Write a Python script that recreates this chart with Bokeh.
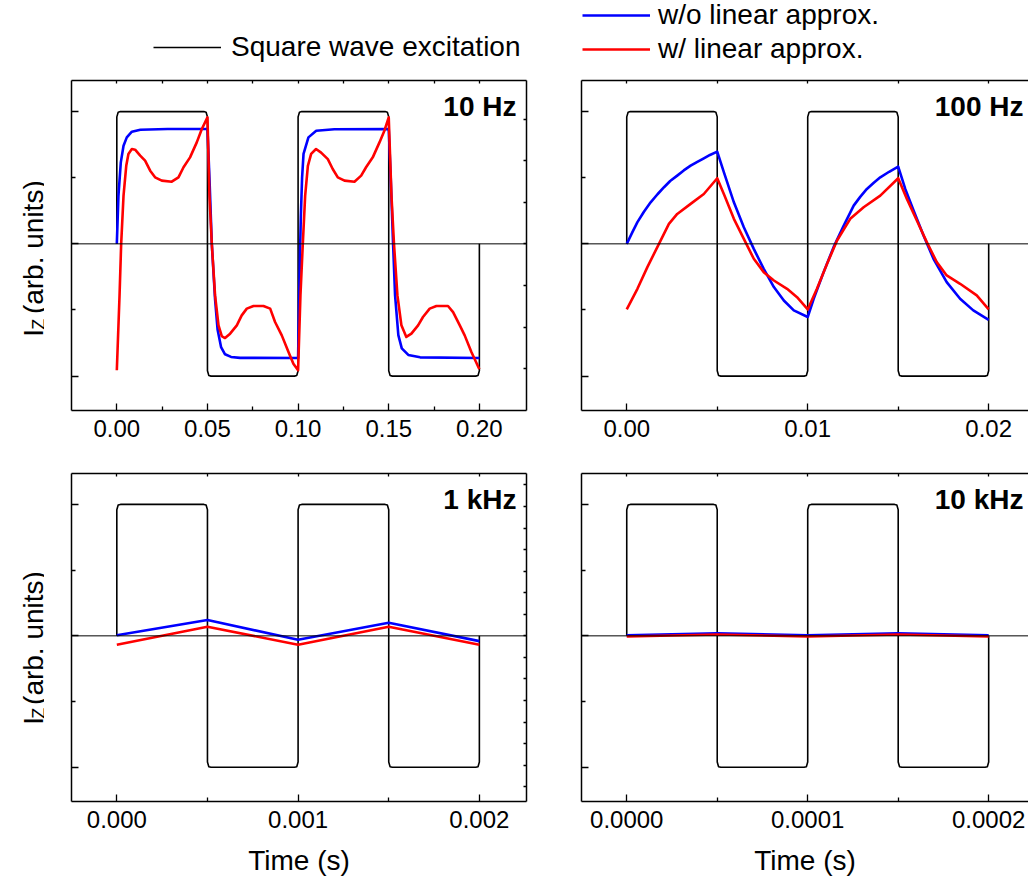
import math
from bokeh.plotting import figure
from bokeh.models import (Range1d, LinearAxis, FixedTicker, Span, Label, Legend,
                          LegendItem, PrintfTickFormatter, CustomJSTickFormatter)
from bokeh.layouts import column, row
from bokeh.embed import file_html
from bokeh.resources import INLINE

FONT = "Liberation Sans"

# ---------------- data ----------------
# square-wave excitation, time in units of half-periods, level normalised
sq_phase = [0, 0, 0.015, 0.04, 0.96, 0.985, 1, 1, 1.015, 1.04, 1.96, 1.985, 2,
            2, 2.015, 2.04, 2.96, 2.985, 3, 3, 3.015, 3.04, 3.96, 3.985, 4, 4]
sq_level = [0, 0.96, 0.995, 1, 1, 0.995, 0.96, -0.96, -0.995, -1, -1, -0.995, -0.96,
            0.96, 0.995, 1, 1, 0.995, 0.96, -0.96, -0.995, -1, -1, -0.995, -0.96, 0]

panel_titles = ["10 Hz", "100 Hz", "1 kHz", "10 kHz"]
half_periods = [0.05, 0.005, 0.0005, 0.00005]

# 10 Hz
t10_blue = [0, 0.0009, 0.0022, 0.0037, 0.0055, 0.0083, 0.013, 0.028, 0.05,
            0.0511, 0.0524, 0.0542, 0.0556, 0.0575, 0.0597, 0.063, 0.068, 0.1,
            0.1007, 0.1015, 0.1022, 0.103, 0.1057, 0.11, 0.12, 0.15,
            0.1511, 0.1524, 0.1535, 0.1553, 0.1572, 0.1608, 0.1673, 0.2]
v10_blue = [0, 0.365, 0.616, 0.742, 0.805, 0.848, 0.863, 0.868, 0.868,
            0.5, 0.0, -0.42, -0.65, -0.78, -0.835, -0.855, -0.862, -0.863,
            -0.3, 0.2, 0.5, 0.68, 0.805, 0.855, 0.866, 0.868,
            0.5, 0.0, -0.39, -0.69, -0.79, -0.84, -0.858, -0.863]
t10_red = [0, 0.0015, 0.0024, 0.0037, 0.0052, 0.0064, 0.0083, 0.0101, 0.0129, 0.0156,
           0.0184, 0.0211, 0.0248, 0.0303, 0.034, 0.0368, 0.0404, 0.0441, 0.0469, 0.05,
           0.0511, 0.0524, 0.0542, 0.0561, 0.0579, 0.0597, 0.0625, 0.0662, 0.0689,
           0.0717, 0.0754, 0.0809, 0.0846, 0.0873, 0.091, 0.0947, 0.0974, 0.1,
           0.1013, 0.1026, 0.1039, 0.1054, 0.1072, 0.1099, 0.1127, 0.1164, 0.1191,
           0.1219, 0.1256, 0.1311, 0.1348, 0.1375, 0.1412, 0.1449, 0.1476, 0.15,
           0.1515, 0.1529, 0.1548, 0.157, 0.1597, 0.1625, 0.1662, 0.1689,
           0.1726, 0.1763, 0.1827, 0.1855, 0.1892, 0.1919, 0.1956, 0.2]
v10_red = [-0.956, -0.39, 0, 0.365, 0.59, 0.68, 0.717, 0.712, 0.667, 0.629,
           0.553, 0.503, 0.478, 0.47, 0.503, 0.579, 0.654, 0.767, 0.868, 0.956,
           0.365, 0, -0.39, -0.616, -0.697, -0.712, -0.679, -0.616, -0.541,
           -0.49, -0.47, -0.47, -0.49, -0.591, -0.692, -0.818, -0.906, -0.956,
           -0.39, 0, 0.365, 0.59, 0.68, 0.717, 0.69, 0.64, 0.566,
           0.503, 0.478, 0.47, 0.516, 0.579, 0.654, 0.767, 0.855, 0.956,
           0.365, 0, -0.39, -0.616, -0.704, -0.679, -0.616, -0.553,
           -0.49, -0.47, -0.47, -0.516, -0.616, -0.692, -0.818, -0.948]

# 100 Hz
t100_blue = [0, 0.0003, 0.00059, 0.00095, 0.00132, 0.0017, 0.00206, 0.0024, 0.00279,
             0.00315, 0.00353, 0.0039, 0.00426, 0.0046, 0.005,
             0.00537, 0.00592, 0.00647, 0.00702, 0.00757, 0.00813, 0.00868, 0.00923, 0.01,
             0.01033, 0.01088, 0.01143, 0.01199, 0.01254, 0.0129, 0.01327, 0.01365, 0.01401,
             0.0145, 0.015,
             0.01539, 0.01585, 0.0164, 0.01695, 0.01768, 0.01842, 0.01915, 0.02]
v100_blue = [0, 0.085, 0.164, 0.243, 0.314, 0.375, 0.428, 0.475, 0.516,
             0.555, 0.591, 0.62, 0.647, 0.672, 0.697,
             0.541, 0.314, 0.126, -0.038, -0.189, -0.327, -0.428, -0.503, -0.553,
             -0.415, -0.214, -0.025, 0.138, 0.289, 0.355, 0.415, 0.462, 0.503,
             0.545, 0.584,
             0.415, 0.252, 0.063, -0.113, -0.289, -0.415, -0.503, -0.574]
t100_red = [0, 0.00059, 0.00114, 0.00178, 0.00233, 0.00279, 0.00353, 0.00426, 0.005,
            0.0054, 0.00592, 0.00647, 0.00702, 0.00757, 0.00813, 0.00886, 0.00941, 0.01,
            0.01051, 0.01107, 0.01162, 0.01235, 0.01309, 0.01401, 0.015,
            0.01548, 0.01603, 0.01658, 0.01713, 0.01768, 0.01842, 0.01934, 0.02]
v100_red = [-0.496, -0.34, -0.176, 0, 0.151, 0.226, 0.302, 0.377, 0.496,
            0.365, 0.189, 0.038, -0.113, -0.214, -0.277, -0.34, -0.403, -0.496,
            -0.34, -0.151, 0.025, 0.189, 0.277, 0.365, 0.496,
            0.34, 0.176, 0.013, -0.138, -0.239, -0.302, -0.39, -0.496]

# 1 kHz
t1k = [0, 0.0005, 0.001, 0.0015, 0.002]
v1k_blue = [0.005, 0.121, -0.03, 0.10, -0.04]
v1k_red = [-0.068, 0.07, -0.068, 0.07, -0.068]

# 10 kHz
t10k = [0, 0.00005, 0.0001, 0.00015, 0.0002]
v10k_blue = [0.005, 0.02, 0.005, 0.02, 0.005]
v10k_red = [-0.005, 0.01, -0.005, 0.01, -0.005]

x_major = {
    "10 Hz": [0, 0.05, 0.1, 0.15, 0.2],
    "100 Hz": [0, 0.01, 0.02],
    "1 kHz": [0, 0.001, 0.002],
    "10 kHz": [0, 0.0001, 0.0002],
}
x_minor = {
    "10 Hz": [0.025, 0.075, 0.125, 0.175],
    "100 Hz": [0.005, 0.015],
    "1 kHz": [0.0005, 0.0015],
    "10 kHz": [0.00005, 0.00015],
}
x_fmt = {"10 Hz": "%.2f", "100 Hz": "%.2f", "1 kHz": "%.3f", "10 kHz": "%.4f"}

legend_labels = ["Square wave excitation", "w/o linear approx.", "w/ linear approx."]
y_label_parts = ["I", "Z", "(arb. units)"]
x_title = "Time (s)"

BLANK = CustomJSTickFormatter(code="return ''")


def plain_axis(**kw):
    return LinearAxis(formatter=BLANK, major_tick_out=0, minor_tick_out=0,
                      major_label_standoff=0, axis_line_width=1.5,
                      major_tick_line_width=1.3, minor_tick_line_width=1.3, **kw)


def make_panel(title, xr, w, h, bl, br, bt, bb, right_scale=None, xlabel=None, title_dx=-10):
    yr = (-1.26, 1.235)
    p = figure(width=w, height=h, x_range=Range1d(*xr), y_range=Range1d(*yr),
               x_axis_type=None, y_axis_type=None, output_backend="svg",
               toolbar_location=None, min_border_left=bl, min_border_right=br,
               min_border_top=bt, min_border_bottom=bb, outline_line_color=None,
               background_fill_color="white", border_fill_color="white")
    p.grid.visible = False

    xb = LinearAxis(ticker=FixedTicker(ticks=x_major[title], minor_ticks=x_minor[title]),
                    formatter=PrintfTickFormatter(format=x_fmt[title]),
                    major_tick_in=7, major_tick_out=0, minor_tick_in=4, minor_tick_out=0,
                    axis_line_width=1.5, major_tick_line_width=1.3, minor_tick_line_width=1.3,
                    major_label_text_font=FONT, major_label_text_font_size="24px",
                    major_label_standoff=9, major_label_text_color="black")
    if xlabel:
        xb.axis_label = xlabel
        xb.axis_label_text_font = FONT
        xb.axis_label_text_font_size = "28px"
        xb.axis_label_text_font_style = "normal"
        xb.axis_label_text_color = "black"
        xb.axis_label_standoff = 14
    p.add_layout(xb, "below")

    xt = plain_axis(ticker=FixedTicker(ticks=x_major[title] + x_minor[title]),
                    major_tick_in=3, minor_tick_in=0)
    p.add_layout(xt, "above")

    yl = plain_axis(ticker=FixedTicker(ticks=[-1, 0, 1], minor_ticks=[-0.5, 0.5]),
                    major_tick_in=7, minor_tick_in=4)
    p.add_layout(yl, "left")

    if right_scale is not None:
        p.extra_y_ranges = {"r": Range1d(yr[0] / right_scale, yr[1] / right_scale)}
        n = int(1.2 / right_scale)
        yr_ax = plain_axis(y_range_name="r", ticker=FixedTicker(ticks=list(range(-n, n + 1))),
                           major_tick_in=3, minor_tick_in=0)
        p.add_layout(yr_ax, "right")

    p.add_layout(Span(location=0, dimension="width", line_color="black", line_width=1))

    p.add_layout(Label(x=xr[1], y=yr[1], x_offset=title_dx, y_offset=-10, text=title,
                       text_align="right", text_baseline="top", text_font=FONT,
                       text_font_size="28px", text_font_style="bold", text_color="black"))
    return p


def text_fig(w, h):
    f = figure(width=w, height=h, x_range=Range1d(0, w), y_range=Range1d(0, h),
               x_axis_type=None, y_axis_type=None, output_backend="svg",
               toolbar_location=None, min_border=0, outline_line_color=None,
               background_fill_color="white", border_fill_color="white")
    f.grid.visible = False
    return f


def ylabel_fig(w, h, start):
    f = text_fig(w, h)
    f.add_layout(Label(x=33, y=start, angle=math.pi / 2, text=y_label_parts[0],
                       text_font=FONT, text_font_size="28px", text_align="left",
                       text_baseline="alphabetic", text_color="black"))
    f.add_layout(Label(x=38, y=start + 8, angle=math.pi / 2, text=y_label_parts[1],
                       text_font=FONT, text_font_size="18px", text_align="left",
                       text_baseline="alphabetic", text_color="black"))
    f.add_layout(Label(x=33, y=start + 26, angle=math.pi / 2, text=y_label_parts[2],
                       text_font=FONT, text_font_size="28px", text_align="left",
                       text_baseline="alphabetic", text_color="black"))
    return f


def draw(p, hp, tb, vb, tr, vr):
    sq = p.line([ph * hp for ph in sq_phase], sq_level, line_color="black", line_width=1.6,
                line_join="round")
    b = p.line(tb, vb, line_color="#0000ff", line_width=2.6, line_join="round")
    r = p.line(tr, vr, line_color="#ff0000", line_width=2.6, line_join="round")
    return sq, b, r


# ---------------- layout ----------------
W = 1028
hdr = text_fig(W, 70)
sq_leg = hdr.line([math.nan], [math.nan], line_color="black", line_width=1.6)
b_leg = hdr.line([math.nan], [math.nan], line_color="#0000ff", line_width=2.6)
r_leg = hdr.line([math.nan], [math.nan], line_color="#ff0000", line_width=2.6)
leg_style = dict(label_text_font=FONT, label_text_font_size="28px", label_text_color="black",
                 glyph_width=68, glyph_height=30, label_height=30, padding=0, margin=0,
                 border_line_color=None, background_fill_alpha=0)
hdr.add_layout(Legend(items=[LegendItem(label=legend_labels[0], renderers=[sq_leg])],
                      location=(153, 7), label_standoff=10, spacing=0, **leg_style))
hdr.add_layout(Legend(items=[LegendItem(label=legend_labels[1], renderers=[b_leg]),
                             LegendItem(label=legend_labels[2], renderers=[r_leg])],
                      location=(582, 5), label_standoff=8, spacing=2, **leg_style))

lab1 = ylabel_fig(44, 380, 85)
lab2 = ylabel_fig(44, 428, 100)

p1 = make_panel("10 Hz", (-0.025, 0.226), 492, 380, 27, 10, 10, 40, right_scale=0.3145)
p2 = make_panel("100 Hz", (-0.0025, 0.0222), 492, 380, 45, 0, 10, 40, title_dx=-5)
p3 = make_panel("1 kHz", (-0.00025, 0.00226), 492, 428, 27, 10, 23, 74, right_scale=0.164,
                xlabel=x_title)
p4 = make_panel("10 kHz", (-0.000025, 0.000222), 492, 428, 45, 0, 23, 74, xlabel=x_title,
                title_dx=-5)

draw(p1, half_periods[0], t10_blue, v10_blue, t10_red, v10_red)
draw(p2, half_periods[1], t100_blue, v100_blue, t100_red, v100_red)
draw(p3, half_periods[2], t1k, v1k_blue, t1k, v1k_red)
draw(p4, half_periods[3], t10k, v10k_blue, t10k, v10k_red)

layout = column(hdr, row(lab1, p1, p2), row(lab2, p3, p4))
open("out.html", "w").write(file_html(layout, INLINE))
